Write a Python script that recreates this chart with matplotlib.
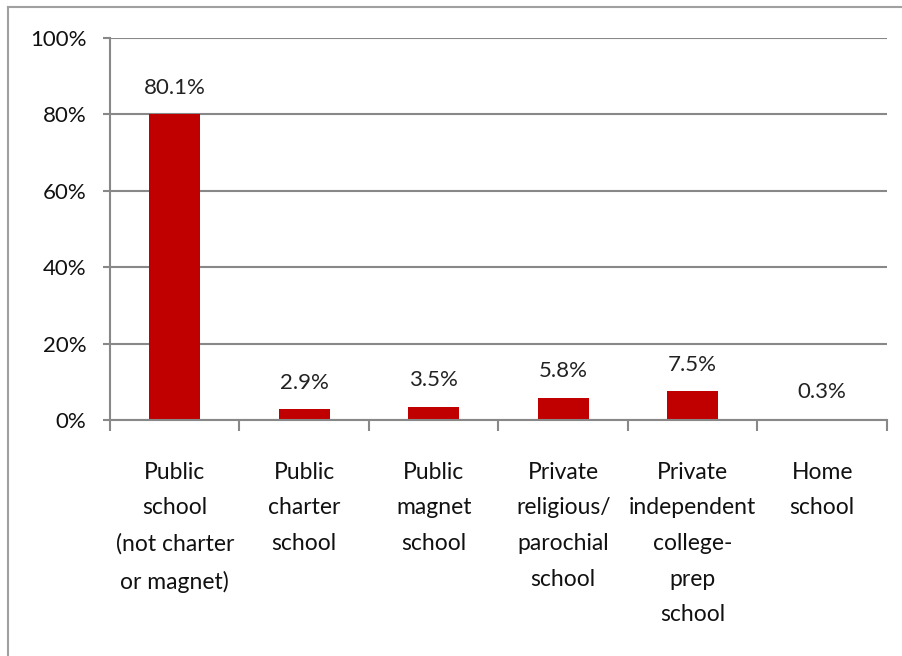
import numpy as np
import matplotlib.pyplot as plt
from matplotlib.lines import Line2D

# 데이터
categories = ["Public\nschool\n(not charter\nor magnet)", "Public\ncharter\nschool",
              "Public\nmagnet\nschool", "Private\nreligious/\nparochial\nschool",
              "Private\nindependent\ncollege-\nprep\nschool", "Home\nschool"]
values = [80.1, 2.9, 3.5, 5.8, 7.5, 0.3]
y_ticks = [0, 20, 40, 60, 80, 100]

plt.rcParams['font.family'] = ['Lato', 'DejaVu Sans']
grey = "#888888"

fig = plt.figure(figsize=(9.03, 6.56), dpi=100)
ax = fig.add_axes([110 / 903, 1 - 420 / 656, 777 / 903, 382 / 656])

x = np.arange(len(categories))
ax.bar(x, values, width=0.39, color="#C00000", zorder=3)

# 값 레이블
for xi, v in zip(x, values):
    ax.annotate(f"{v:.1f}%", (xi, v), xytext=(0, 19), textcoords="offset points",
                ha="center", va="center", fontsize=16, color="#222222")

ax.set_xlim(-0.5, len(categories) - 0.5)
ax.set_ylim(0, 100)
ax.set_yticks(y_ticks)
ax.set_yticklabels([f"{t}%" for t in y_ticks], fontsize=16, color="#111111")
ax.tick_params(axis="y", length=5, width=1.5, color=grey, pad=12)

# 카테고리 경계 눈금
ax.set_xticks(x)
ax.set_xticklabels(categories, fontsize=16.5, linespacing=1.86, va="top", color="#111111")
ax.set_xticks(np.arange(-0.5, len(categories)), minor=True)
ax.tick_params(axis="x", which="major", length=0, pad=30)
ax.tick_params(axis="x", which="minor", length=8, width=1.5, color=grey)

ax.yaxis.grid(True, color=grey, linewidth=1.5, zorder=0)
for s in ["top", "right"]:
    ax.spines[s].set_visible(False)
ax.spines["left"].set_color(grey)
ax.spines["left"].set_linewidth(1.5)
ax.spines["bottom"].set_color(grey)
ax.spines["bottom"].set_linewidth(1.5)
ax.spines["bottom"].set_zorder(4)

# 바깥 테두리
W, H = 903, 656
fig.add_artist(Line2D([8 / W, 8 / W], [0, 1 - 7 / H], color="#a0a0a0", lw=1.5))
fig.add_artist(Line2D([8 / W, 1], [1 - 7 / H, 1 - 7 / H], color="#a0a0a0", lw=1.5))

fig.savefig("out.png", dpi=100)
